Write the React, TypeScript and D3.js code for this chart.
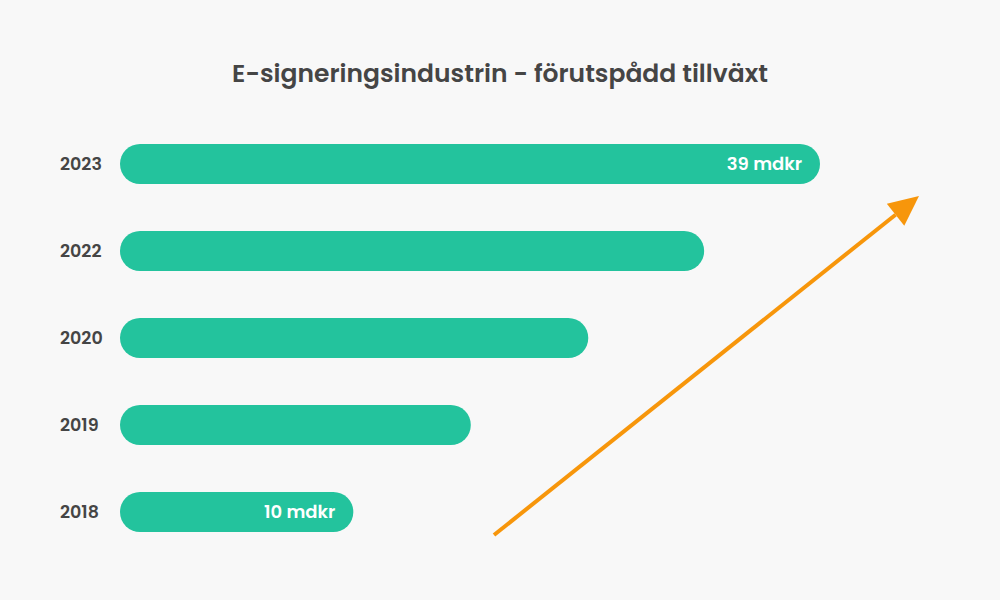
import React from "react";
import * as d3 from "d3";

// categories (top to bottom) and their values in mdkr
const years = ["2023", "2022", "2020", "2019", "2018"];
const values = [39, 31.8, 24.6, 17.3, 10];
// only these bars carry a value label
const labelled = ["2023", "2018"];

const title = "E-signeringsindustrin - förutspådd tillväxt";

const width = 1000;
const height = 600;
const margin = { top: 144, left: 120, bottom: 68 };
const font = "Poppins, Inter, 'Noto Sans', sans-serif";

const App: React.FC = () => {
  const x = d3.scaleLinear().domain([-4.5, 39]).range([0, 700]);
  const y = d3
    .scaleBand()
    .domain(years)
    .range([margin.top, height - margin.bottom])
    .paddingInner(0.54)
    .paddingOuter(0);

  const bh = y.bandwidth();

  // trend arrow
  const start: [number, number] = [494, 535];
  const tip: [number, number] = [919, 196];
  const angle = Math.atan2(tip[1] - start[1], tip[0] - start[0]);
  const headLen = 30;
  const headHalf = 14;
  const base: [number, number] = [
    tip[0] - headLen * Math.cos(angle),
    tip[1] - headLen * Math.sin(angle),
  ];
  const perp = angle + Math.PI / 2;
  const head = [
    tip,
    [base[0] + headHalf * Math.cos(perp), base[1] + headHalf * Math.sin(perp)],
    [base[0] - headHalf * Math.cos(perp), base[1] - headHalf * Math.sin(perp)],
  ] as [number, number][];

  return (
    <svg
      width={width}
      height={height}
      style={{ position: "absolute", left: 0, top: 0, background: "#f8f8f8" }}
    >
      <rect width={width} height={height} fill="#f8f8f8" />
      <text
        x={width / 2}
        y={82}
        textAnchor="middle"
        fontFamily={font}
        fontSize={25}
        fontWeight={600}
        fill="#454545"
      >
        {title}
      </text>

      {years.map((yr, i) => {
        const y0 = y(yr)!;
        const w = x(values[i]);
        return (
          <g key={yr}>
            <text
              x={60}
              y={y0 + bh / 2}
              dy="0.36em"
              fontFamily={font}
              fontSize={17.5}
              fontWeight={600}
              fill="#454545"
            >
              {yr}
            </text>
            <rect
              x={margin.left}
              y={y0}
              width={w}
              height={bh}
              rx={bh / 2}
              fill="#23c39d"
            />
            {labelled.includes(yr) && (
              <text
                x={margin.left + w - 18}
                y={y0 + bh / 2}
                dy="0.36em"
                textAnchor="end"
                fontFamily={font}
                fontSize={18}
                fontWeight={600}
                fill="#ffffff"
              >
                {`${values[i]} mdkr`}
              </text>
            )}
          </g>
        );
      })}

      <line
        x1={start[0]}
        y1={start[1]}
        x2={base[0]}
        y2={base[1]}
        stroke="#f7960b"
        strokeWidth={4}
      />
      <path d={d3.line()(head)! + "Z"} fill="#f7960b" />
    </svg>
  );
};

export default App;
